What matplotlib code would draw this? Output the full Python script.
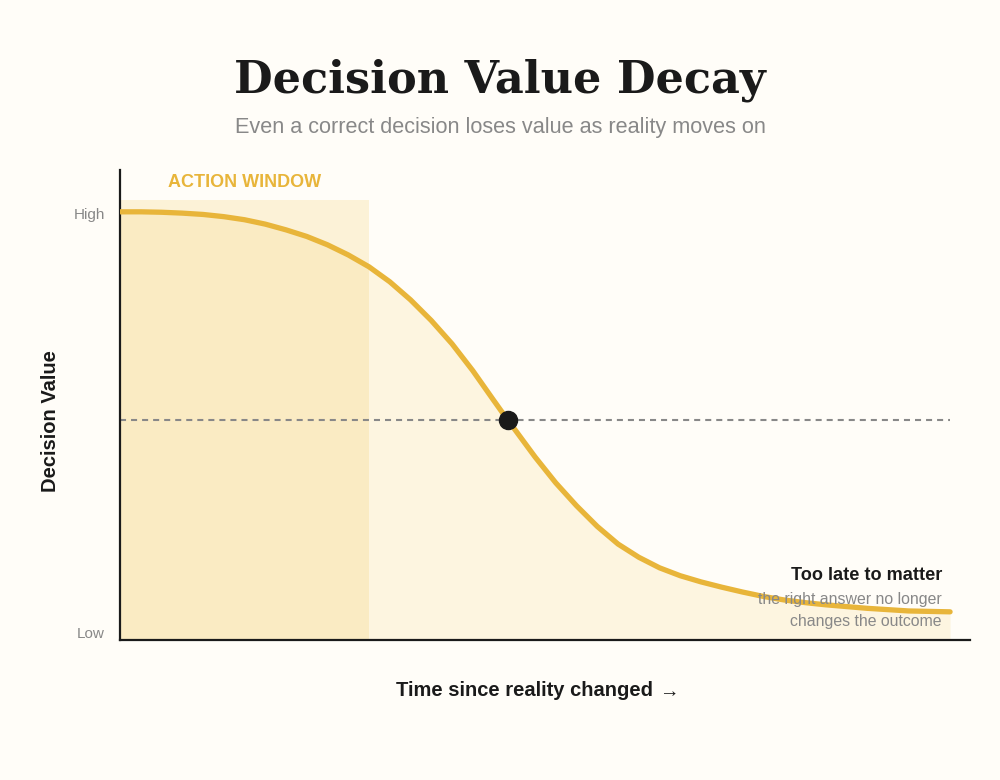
import numpy as np
import matplotlib
matplotlib.use('Agg')
import matplotlib.pyplot as plt

# ── Data ──────────────────────────────────────────────────────────────────────
time_pts  = [0, 2.5, 5, 7.5, 10, 12.5, 15, 17.5, 20, 22.5, 25, 27.5, 30, 32.5,
             35, 37.5, 40, 42.5, 45, 46.7, 47.5, 50, 52.5, 55, 57.5, 60, 62.5,
             65, 67.5, 70, 72.5, 75, 77.5, 80, 82.5, 85, 87.5, 90, 92.5, 95,
             97.5, 100]
value_pts = [97.3, 97.3, 97.2, 97.0, 96.7, 96.2, 95.5, 94.5, 93.2, 91.7, 89.8,
             87.5, 84.8, 81.4, 77.3, 72.6, 67.3, 61.2, 54.5, 50.0, 48.0, 41.6,
             35.7, 30.5, 25.8, 21.8, 18.8, 16.4, 14.6, 13.2, 12.0, 10.9, 9.9,
             9.1, 8.5, 8.0, 7.6, 7.2, 6.9, 6.6, 6.5, 6.4]
action_window = (0, 30)      # time range of the action window
window_top    = 100
midpoint      = (46.7, 50)   # where value has halved
ytick_vals    = [97, 1.8]
ytick_labels  = ['High', 'Low']

# ── Style ─────────────────────────────────────────────────────────────────────
BG     = '#FFFDF8'
GOLD   = '#E8B53A'
TINT   = '#F0BE3A'
DARK   = '#1A1A1A'
GREY   = '#888888'
plt.rcParams['font.family'] = ['Liberation Sans', 'DejaVu Sans']

fig = plt.figure(figsize=(10, 7.8), dpi=100, facecolor=BG)
ax = fig.add_axes([0.12, 1 - 640 / 780, 0.85, 470 / 780])
ax.set_facecolor(BG)

# action window + area under curve
ax.fill_between(action_window, 0, window_top, color=TINT, alpha=0.17,
                linewidth=0, zorder=1)
ax.fill_between(time_pts, 0, value_pts, color=TINT, alpha=0.12,
                linewidth=0, zorder=1)

# reference line at half value
ax.plot([time_pts[0], time_pts[-1]], [midpoint[1], midpoint[1]],
        color=GREY, linewidth=1.5, linestyle=(0, (2.9, 2.4)), zorder=2)

# decay curve
ax.plot(time_pts, value_pts, color=GOLD, linewidth=3.8,
        solid_capstyle='round', solid_joinstyle='round', zorder=3)
ax.plot(*midpoint, 'o', color=DARK, markersize=13, zorder=4)

ax.set_xlim(0, 102.4)
ax.set_ylim(0, 106.8)
ax.set_xticks([])
ax.set_yticks(ytick_vals)
ax.set_yticklabels(ytick_labels, fontsize=11, color=GREY)
ax.tick_params(axis='y', length=0, pad=11)
for s in ['top', 'right']:
    ax.spines[s].set_visible(False)
for s in ['left', 'bottom']:
    ax.spines[s].set_color(DARK)
    ax.spines[s].set_linewidth(1.6)

ax.text(15, 102, 'ACTION WINDOW', ha='center', va='bottom',
        fontsize=13, fontweight='bold', color=GOLD)

# ── Text ──────────────────────────────────────────────────────────────────────
def fy(px):
    return 1 - px / 780

fig.text(0.5, fy(92.5), 'Decision Value Decay', ha='center', va='baseline',
         family='DejaVu Serif', fontweight='bold', fontsize=32, color=DARK)
fig.text(0.5, fy(132.5), 'Even a correct decision loses value as reality moves on',
         ha='center', va='baseline', fontsize=15.6, color=GREY)

fig.text(0.05, fy(421), 'Decision Value', rotation=90, ha='center',
         va='center', fontsize=14.5, fontweight='bold', color=DARK)

fig.text(0.653, fy(696), 'Time since reality changed', ha='right',
         va='baseline', fontsize=14.5, fontweight='bold', color=DARK)
fig.text(0.659, fy(697), '→', ha='left', va='baseline',
         fontsize=14, color=DARK)

fig.text(0.942, fy(580), 'Too late to matter', ha='right', va='baseline',
         fontsize=13.1, fontweight='bold', color=DARK, zorder=5)
fig.text(0.942, fy(604), 'the right answer no longer', ha='right',
         va='baseline', fontsize=11.45, color=GREY, zorder=5)
fig.text(0.942, fy(626), 'changes the outcome', ha='right',
         va='baseline', fontsize=11.45, color=GREY, zorder=5)

fig.savefig('out.png', dpi=100, facecolor=BG)
